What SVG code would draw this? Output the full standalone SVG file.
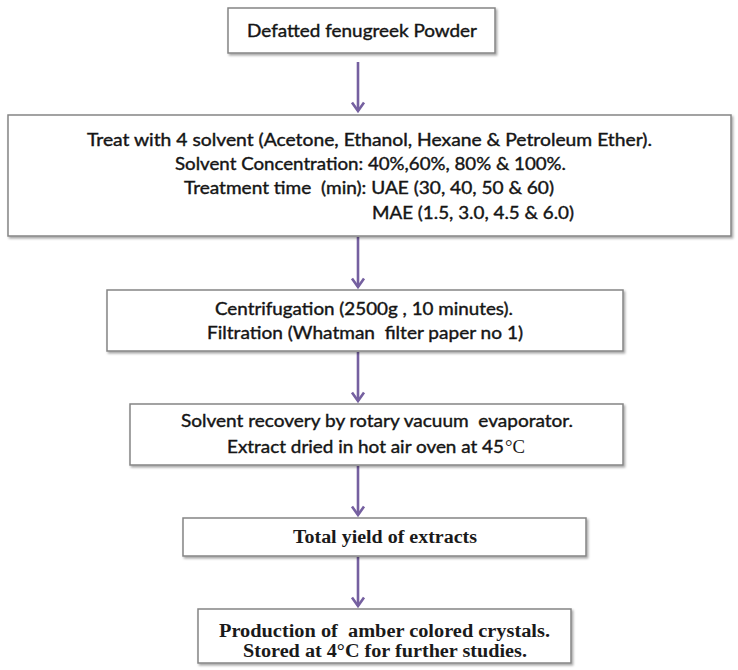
<svg xmlns="http://www.w3.org/2000/svg" width="738" height="670" viewBox="0 0 738 670">
<defs>
<style>
.box{fill:#ffffff;stroke:#858585;stroke-width:1.5;filter:url(#sh)}
.t{font-family:Lato,"Open Sans","Liberation Sans",sans-serif;font-size:17.5px;fill:#151515;stroke:#151515;stroke-width:0.4}
.s{font-family:"Liberation Serif","Times New Roman",serif;font-size:18.5px;font-weight:bold;fill:#1a1a1a}
.deg{font-family:"Liberation Serif","Times New Roman",serif;font-size:18px;fill:#1a1a1a}
.c{fill:none;stroke:#7560a0;stroke-width:2.6}
</style>
<filter id="sh" x="-5%" y="-10%" width="110%" height="130%">
<feDropShadow dx="1.5" dy="1.8" stdDeviation="1" flood-color="#000" flood-opacity="0.35"/>
</filter>
<marker id="ah" markerUnits="userSpaceOnUse" markerWidth="20" markerHeight="20" viewBox="-10 -10 20 20" refX="0" refY="0" orient="auto">
<path d="M-8.5,-6 L0,0 L-8.5,6" fill="none" stroke="#7560a0" stroke-width="2.6" stroke-linejoin="miter"/>
</marker>
</defs>
<rect width="738" height="670" fill="#ffffff"/>

<g id="connectors">
<line class="c" x1="358" y1="62" x2="358" y2="111" marker-end="url(#ah)"/>
<line class="c" x1="358" y1="237" x2="358" y2="287" marker-end="url(#ah)"/>
<line class="c" x1="358" y1="352" x2="358" y2="401" marker-end="url(#ah)"/>
<line class="c" x1="358" y1="466" x2="358" y2="515" marker-end="url(#ah)"/>
<line class="c" x1="358" y1="557" x2="358" y2="606" marker-end="url(#ah)"/>
</g>

<g id="n1">
<rect class="box" x="228" y="8" width="267" height="45"/>
<text class="t" x="247" y="37" textLength="230" lengthAdjust="spacingAndGlyphs">Defatted fenugreek Powder</text>
</g>

<g id="n2">
<rect class="box" x="8" y="115" width="723" height="121"/>
<text class="t" x="87" y="146" textLength="565" lengthAdjust="spacingAndGlyphs">Treat with 4 solvent (Acetone, Ethanol, Hexane &amp; Petroleum Ether).</text>
<text class="t" x="175" y="170" textLength="391" lengthAdjust="spacingAndGlyphs">Solvent Concentration: 40%,60%, 80% &amp; 100%.</text>
<text class="t" x="184" y="194" textLength="370" lengthAdjust="spacingAndGlyphs" xml:space="preserve">Treatment time  (min): UAE (30, 40, 50 &amp; 60)</text>
<text class="t" x="372" y="219" textLength="202" lengthAdjust="spacingAndGlyphs">MAE (1.5, 3.0, 4.5 &amp; 6.0)</text>
</g>

<g id="n3">
<rect class="box" x="107" y="290" width="516" height="61"/>
<text class="t" x="215" y="315" textLength="298" lengthAdjust="spacingAndGlyphs">Centrifugation (2500g , 10 minutes).</text>
<text class="t" x="207" y="339" textLength="316" lengthAdjust="spacingAndGlyphs" xml:space="preserve">Filtration (Whatman  filter paper no 1)</text>
</g>

<g id="n4">
<rect class="box" x="130" y="404" width="493" height="61"/>
<text class="t" x="181" y="427" textLength="392" lengthAdjust="spacingAndGlyphs" xml:space="preserve">Solvent recovery by rotary vacuum  evaporator.</text>
<text class="t" x="227" y="453" textLength="277" lengthAdjust="spacingAndGlyphs">Extract dried in hot air oven at 45</text>
<text class="deg" x="505" y="453" textLength="20" lengthAdjust="spacingAndGlyphs">°C</text>
</g>

<g id="n5">
<rect class="box" x="183" y="518" width="403" height="38"/>
<text class="s" x="293" y="543" textLength="184" lengthAdjust="spacingAndGlyphs">Total yield of extracts</text>
</g>

<g id="n6">
<rect class="box" x="198" y="609" width="373" height="54"/>
<text class="s" x="219" y="637" textLength="331" lengthAdjust="spacingAndGlyphs" xml:space="preserve">Production of  amber colored crystals.</text>
<text class="s" x="243" y="657" textLength="284" lengthAdjust="spacingAndGlyphs">Stored at 4°C for further studies.</text>
</g>
</svg>
